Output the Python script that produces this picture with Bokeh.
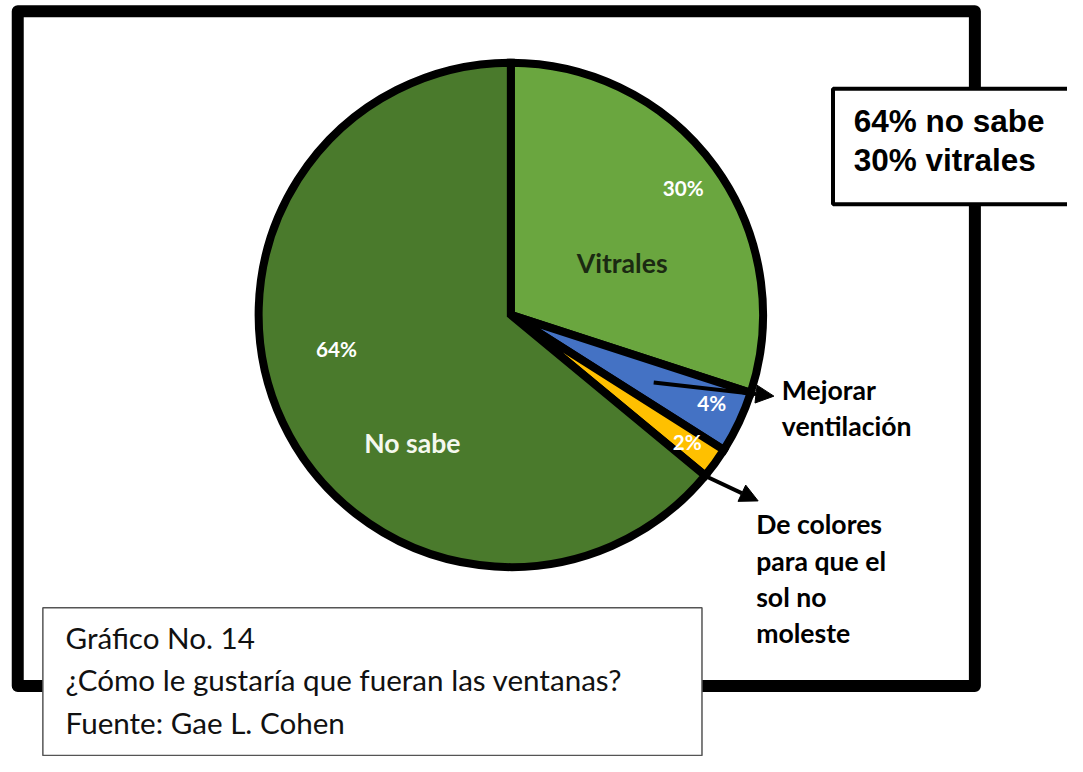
import math
from bokeh.plotting import figure
from bokeh.models import Range1d, ColumnDataSource, Arrow, NormalHead, Label
from bokeh.embed import file_html
from bokeh.resources import INLINE

# ---- data ----
categories = ["Vitrales", "Mejorar ventilación", "De colores para que el sol no moleste", "No sabe"]
percents = [30, 4, 2, 64]
colors = ["#6aa63f", "#4472c4", "#ffc000", "#4a7a2c"]
summary_lines = ["64% no sabe", "30% vitrales"]
caption_lines = ["Gráfico No. 14", "¿Cómo le gustaría que fueran las ventanas?", "Fuente: Gae L. Cohen"]
mejorar_lines = ["Mejorar", "ventilación"]
colores_lines = ["De colores", "para que el", "sol no", "moleste"]

W, H = 1067, 756
RW, RH = 1083, 772          # reference canvas mapped onto the figure
S = W / RW                  # pixel scale for font sizes

def sy(v):
    return RH - v

def fs(px):
    return f"{px * S:.1f}px"

p = figure(width=W, height=H, output_backend="svg", toolbar_location=None,
           x_range=Range1d(0, RW), y_range=Range1d(0, RH), min_border=0)
p.axis.visible = False
p.grid.visible = False
p.outline_line_color = None
p.background_fill_color = "white"

# outer frame
p.quad(left=[17.5], right=[989], top=[sy(11)], bottom=[sy(700)], fill_color=None,
       line_color="black", line_width=12, line_join="round")

# pie
cx, cy, r = 518, sy(321), 256
total = sum(percents)
starts, ends = [], []
cum = 0.0
for v in percents:
    a0 = math.pi / 2 - 2 * math.pi * cum / total
    cum += v
    a1 = math.pi / 2 - 2 * math.pi * cum / total
    starts.append(a1)
    ends.append(a0)
src = ColumnDataSource(dict(cat=categories, pct=percents, color=colors, start=starts, end=ends))
p.wedge(x=cx, y=cy, radius=r, start_angle="start", end_angle="end", direction="anticlock",
        fill_color="color", line_color="black", line_width=8, line_join="miter", source=src)

# percent labels (white)
pct_pos = [(693, 191), (722, 411), (697, 451), (341, 356)]
for (x, y), v in zip(pct_pos, percents):
    p.add_layout(Label(x=x, y=sy(y), text=f"{v}%", text_color="white", text_font="Lato",
                       text_font_style="bold", text_font_size=fs(21), text_align="center",
                       text_baseline="middle"))

# category labels inside pie
p.add_layout(Label(x=631, y=sy(268), text=categories[0], text_color="#1b2a12", text_font="Lato",
                   text_font_style="bold", text_font_size=fs(27), text_align="center", text_baseline="middle"))
p.add_layout(Label(x=418, y=sy(452), text=categories[3], text_color="#f4f8ee", text_font="Lato",
                   text_font_style="bold", text_font_size=fs(27), text_align="center", text_baseline="middle"))

# outside labels
for i, t in enumerate(mejorar_lines):
    p.add_layout(Label(x=793, y=sy(398 + 37 * i), text=t, text_color="black", text_font="Lato",
                       text_font_style="bold", text_font_size=fs(27), text_align="left", text_baseline="middle"))
for i, t in enumerate(colores_lines):
    p.add_layout(Label(x=767, y=sy(535 + 37 * i), text=t, text_color="black", text_font="Lato",
                       text_font_style="bold", text_font_size=fs(27), text_align="left", text_baseline="middle"))

# arrows
p.add_layout(Arrow(end=NormalHead(size=18, fill_color="black", line_color="black"),
                   x_start=663, y_start=sy(390), x_end=785, y_end=sy(404),
                   line_color="black", line_width=4))
p.add_layout(Arrow(end=NormalHead(size=18, fill_color="black", line_color="black"),
                   x_start=710, y_start=sy(483), x_end=769, y_end=sy(511),
                   line_color="black", line_width=4))

# summary box
p.quad(left=[845], right=[1090], top=[sy(90)], bottom=[sy(208)], fill_color="white",
       line_color="black", line_width=4)
for i, t in enumerate(summary_lines):
    p.add_layout(Label(x=866, y=sy(123 + 40 * i), text=t, text_color="black", text_font="Liberation Sans",
                       text_font_style="bold", text_font_size=fs(32), text_align="left", text_baseline="middle"))

# caption box
p.quad(left=[43], right=[712], top=[sy(620)], bottom=[sy(771)], fill_color="white",
       line_color="#555555", line_width=1.5)
for i, t in enumerate(caption_lines):
    p.add_layout(Label(x=66, y=sy(650 + 43.5 * i), text=t, text_color="#111111", text_font="Lato",
                       text_font_size=fs(30), text_align="left", text_baseline="middle"))

open("out.html", "w").write(file_html(p, INLINE))
